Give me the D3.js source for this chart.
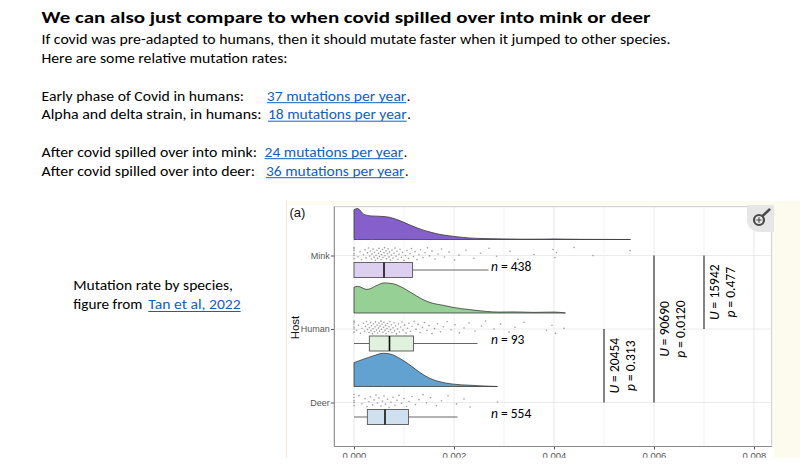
<!DOCTYPE html>
<html><head><meta charset="utf-8">
<script src="https://cdn.jsdelivr.net/npm/d3@7"></script>
<style>body{margin:0;background:#fff}svg{display:block}</style>
</head><body>
<svg id="c" width="800" height="465"></svg>
<script>
// ---------- text content ----------
const title = "We can also just compare to when covid spilled over into mink or deer";
const introLines = ["If covid was pre-adapted to humans, then it should mutate faster when it jumped to other species.",
                    "Here are some relative mutation rates:"];
const rateLabels = ["Early phase of Covid in humans:", "Alpha and delta strain, in humans:",
                    "After covid spilled over into mink:", "After covid spilled over into deer:"];
const rateValues = [37, 18, 24, 36];
const captionLine1 = "Mutation rate by species,";
const captionLine2 = "figure from";
const captionLink = "Tan et al, 2022";

// ---------- chart data ----------
const hosts = ["Mink", "Human", "Deer"];
const nLabels = [438, 93, 554];
const xTicks = [0, 0.002, 0.004, 0.006, 0.008];
const xGrid = [0, 0.001, 0.002, 0.003, 0.004, 0.005, 0.006, 0.007, 0.008];

// density curves [rate, relative density]
const minkDensity = [[0,0.96],[0.00007,1.0],[0.0002,0.81],[0.00035,0.76],[0.0005,0.75],[0.0007,0.72],[0.0009,0.62],[0.0011,0.48],[0.0013,0.35],[0.0015,0.25],[0.0017,0.17],[0.0019,0.12],[0.0021,0.08],[0.0023,0.05],[0.0026,0.03],[0.003,0.018],[0.0034,0.01],[0.0038,0.012],[0.004,0.018],[0.0042,0.012],[0.0046,0.005],[0.005,0.003],[0.00553,0.0]];
const humanDensity = [[0,0.83],[0.00007,0.86],[0.00026,0.76],[0.00046,0.89],[0.0006,0.97],[0.00079,0.94],[0.00098,0.81],[0.00118,0.62],[0.00138,0.43],[0.00158,0.31],[0.00178,0.25],[0.00198,0.18],[0.00231,0.11],[0.00265,0.05],[0.0029,0.03],[0.0032,0.035],[0.0036,0.02],[0.004,0.03],[0.00423,0.0]];
const deerDensity = [[0,0.77],[0.00019,0.88],[0.00039,0.99],[0.00059,1.07],[0.00072,1.05],[0.00092,0.9],[0.00112,0.69],[0.00132,0.45],[0.00152,0.26],[0.00172,0.15],[0.00199,0.075],[0.00232,0.04],[0.0026,0.015],[0.00287,0.0]];

// box stats
const minkStats  = {lo:0, q1:0,        med:0.0006,  q3:0.00117, hi:0.00269};
const humanStats = {lo:0, q1:0.000307, med:0.00071, q3:0.00119, hi:0.00247};
const deerStats  = {lo:0, q1:0.000267, med:0.00062, q3:0.00109, hi:0.00207};

// raw points (units of 1e-4)
const minkPts = [0,0,0,0,0,0,0.8,1.2,1.5,1.9,2.2,2.4,2.7,2.9,3.1,3.3,3.5,3.6,3.8,4.0,4.1,4.3,4.4,4.6,4.7,4.9,5.0,5.1,5.3,5.4,5.5,5.7,5.8,6.0,6.1,6.2,6.4,6.5,6.7,6.8,7.0,7.1,7.3,7.5,7.6,7.8,8.0,8.2,8.4,8.6,8.8,9.0,9.2,9.5,9.7,10.0,10.3,10.6,10.9,11.2,11.5,11.9,12.2,12.6,13.0,13.3,13.8,14.2,14.7,15.1,15.6,16.2,16.8,17.5,18.1,19.0,20.1,21.0,22.4,24.0,25.3,27.0,28.5,31.2,32.8,36.0,39.8,40.2,40.5,44.0,47.8,55.2];
const humanPts = [0,0,0,0,0,0,0.5,0.9,1.3,1.6,1.9,2.1,2.3,2.5,2.7,2.8,3.0,3.1,3.3,3.4,3.5,3.7,3.8,3.9,4.1,4.2,4.3,4.5,4.6,4.7,4.9,5.0,5.1,5.2,5.4,5.5,5.6,5.8,5.9,6.0,6.2,6.3,6.4,6.6,6.7,6.9,7.0,7.2,7.3,7.5,7.6,7.8,8.0,8.1,8.3,8.5,8.7,8.9,9.1,9.3,9.6,9.8,10.1,10.4,10.7,11.0,11.3,11.6,12.0,12.4,12.8,13.2,13.7,14.1,14.6,15.0,15.6,16.1,16.7,17.3,17.9,18.6,19.4,20.2,21.1,22.0,23.0,24.2,25.5,26.3,28.0,29.3,31.0,32.2,34.0,38.5,39.6,40.3,42.0];
const deerPts = [0,0,0,0,0,1.0,1.6,2.2,2.6,3.0,3.3,3.7,4.0,4.4,4.7,5.0,5.4,5.7,6.0,6.3,6.7,7.0,7.4,7.8,8.2,8.6,9.0,9.5,10.0,10.5,11.0,11.6,12.3,13.0,13.8,14.5,15.3,16.5,17.5,18.8,20.5,22.0,23.2,28.7];

// pairwise tests
const testFrom = ["Human", "Mink", "Mink"];
const testTo   = ["Deer",  "Deer", "Human"];
const testPos  = [0.005, 0.006, 0.007];
const testU    = ["20454", "90690", "15942"];
const testP    = ["0.313", "0.0120", "0.477"];

const series = [
  {host:"Mink",  dens:minkDensity,  stats:minkStats,  pts:minkPts,  fill:"#8560cc", box:"#dccff0"},
  {host:"Human", dens:humanDensity, stats:humanStats, pts:humanPts, fill:"#97d095", box:"#e0f1dd"},
  {host:"Deer",  dens:deerDensity,  stats:deerStats,  pts:deerPts,  fill:"#62a2d0", box:"#cfe1f1"}
];

// ---------- drawing ----------
const svg = d3.select("#c");
svg.append("rect").attr("width",800).attr("height",465).attr("fill","#fff");

const bodyFont = "Carlito, Calibri, Lato, sans-serif";
const axisFont = "Liberation Sans, Arial, sans-serif";
const linkColor = "#1160c4";

function fitText(g, str, x, y, len, size, weight, color) {
  return g.append("text").attr("x",x).attr("y",y).text(str)
    .attr("font-family",bodyFont).attr("font-size",size).attr("font-weight",weight||"normal")
    .attr("fill",color||"#000").attr("textLength",len).attr("lengthAdjust","spacingAndGlyphs");
}
function link(g, str, x, y, len, size) {
  fitText(g, str, x, y, len, size, "normal", linkColor);
  g.append("line").attr("x1",x).attr("x2",x+len).attr("y1",y+2.2).attr("y2",y+2.2)
    .attr("stroke",linkColor).attr("stroke-width",1);
}

const txt = svg.append("g");
fitText(txt, title, 41.5, 23, 609, 16.5, "bold");
fitText(txt, introLines[0], 41.5, 43.5, 629, 14);
fitText(txt, introLines[1], 41.5, 63, 246, 14);

const rateLayout = [
  {y:100.5, lw:202.5, lx:266.8, ll:139.5},
  {y:119,   lw:220,   lx:268,   ll:138.7},
  {y:156.5, lw:215.5, lx:264.6, ll:138.6},
  {y:175.5, lw:213.5, lx:266,   ll:138.5}
];
rateLabels.forEach((s,i) => {
  const L = rateLayout[i];
  fitText(txt, s, 41.5, L.y, L.lw, 14);
  link(txt, rateValues[i] + " mutations per year", L.lx, L.y, L.ll, 14);
  fitText(txt, ".", L.lx + L.ll + 0.5, L.y, 3.5, 14);
});

fitText(txt, captionLine1, 73.3, 290, 159.7, 14);
fitText(txt, captionLine2, 73.3, 309.3, 69, 14);
link(txt, captionLink, 148.3, 309.3, 92.4, 14);

// figure frame
svg.append("defs").append("clipPath").attr("id","fig")
  .append("rect").attr("x",286).attr("y",201).attr("width",514).attr("height",256.8);
const fig = svg.append("g").attr("clip-path","url(#fig)");
fig.append("rect").attr("x",286).attr("y",201).attr("width",514).attr("height",264).attr("fill","#fdfbee");
fig.append("rect").attr("x",287).attr("y",205).attr("width",487).attr("height",260).attr("fill","#fff");
fig.append("line").attr("x1",286.5).attr("x2",286.5).attr("y1",201).attr("y2",465).attr("stroke","#f0e6dc");

const panel = {l:334.3, r:771.7, t:206.7, b:446.5};
const x = d3.scaleLinear().domain([0,0.008]).range([354,754]);
const y = d3.scalePoint().domain(hosts).range([255.5,402.5]);
const dens = d3.scaleLinear().domain([0,1]).range([0,31]);

// grid
fig.append("g").selectAll("line").data(xGrid).join("line")
  .attr("x1",d=>x(d)).attr("x2",d=>x(d)).attr("y1",panel.t).attr("y2",panel.b)
  .attr("stroke",(d,i)=> i%2===0 ? "#e4e4e4" : "#eeeeee").attr("stroke-width",0.8);
fig.append("g").selectAll("line").data(hosts).join("line")
  .attr("x1",panel.l).attr("x2",panel.r).attr("y1",d=>y(d)).attr("y2",d=>y(d))
  .attr("stroke","#e6e6e6").attr("stroke-width",0.8);

// panel border
fig.append("rect").attr("x",panel.l).attr("y",panel.t).attr("width",panel.r-panel.l).attr("height",panel.b-panel.t)
  .attr("fill","none").attr("stroke","#c4c4c4").attr("stroke-width",0.9);

// series
series.forEach(s => {
  const yc = y(s.host);
  const base = yc - 16;
  const area = d3.area().curve(d3.curveMonotoneX)
    .x(d=>x(d[0])).y0(base).y1(d=>base - dens(d[1]));
  fig.append("path").datum(s.dens).attr("d",area)
    .attr("fill",s.fill).attr("stroke","#3a3a3a").attr("stroke-width",0.8);

  // points (deterministic low-discrepancy vertical jitter)
  fig.append("g").selectAll("circle").data(s.pts).join("circle")
    .attr("cx",d=>x(d*1e-4))
    .attr("cy",(d,i)=> yc - 8 + ((i*0.6180339887) % 1)*13)
    .attr("r",0.8).attr("fill","#8c8c8c").attr("opacity",0.85);

  // box
  const bc = yc + 14.5, bh = 15;
  fig.append("line").attr("x1",x(s.stats.lo)).attr("x2",x(s.stats.q1)).attr("y1",bc).attr("y2",bc)
    .attr("stroke","#555").attr("stroke-width",0.9);
  fig.append("line").attr("x1",x(s.stats.q3)).attr("x2",x(s.stats.hi)).attr("y1",bc).attr("y2",bc)
    .attr("stroke","#555").attr("stroke-width",0.9);
  fig.append("rect").attr("x",x(s.stats.q1)).attr("y",bc-bh/2).attr("width",x(s.stats.q3)-x(s.stats.q1)).attr("height",bh)
    .attr("fill",s.box).attr("stroke","#555").attr("stroke-width",0.9);
  fig.append("line").attr("x1",x(s.stats.med)).attr("x2",x(s.stats.med)).attr("y1",bc-bh/2).attr("y2",bc+bh/2)
    .attr("stroke","#111").attr("stroke-width",1.6);
});

// n labels
hosts.forEach((h,i) => {
  const t = fig.append("text").attr("x",491).attr("y",y(h)+15)
    .attr("font-family",bodyFont).attr("font-size",13.5).attr("fill","#000");
  t.append("tspan").attr("font-style","italic").text("n");
  t.append("tspan").text(" = " + nLabels[i]);
});

// significance brackets
testPos.forEach((p,i) => {
  const y1 = y(testFrom[i]), y2 = y(testTo[i]);
  fig.append("line").attr("x1",x(p)).attr("x2",x(p)).attr("y1",y1).attr("y2",y2)
    .attr("stroke","#444").attr("stroke-width",1.3);
  const mid = (y1+y2)/2;
  const t1 = fig.append("text").attr("transform",`translate(${x(p)+14.5},${mid}) rotate(-90)`)
    .attr("text-anchor","middle").attr("font-family",bodyFont).attr("font-size",13.5).attr("fill","#000");
  t1.append("tspan").attr("font-style","italic").text("U");
  t1.append("tspan").text(" = " + testU[i]);
  const t2 = fig.append("text").attr("transform",`translate(${x(p)+31},${mid}) rotate(-90)`)
    .attr("text-anchor","middle").attr("font-family",bodyFont).attr("font-size",13.5).attr("fill","#000");
  t2.append("tspan").attr("font-style","italic").text("p");
  t2.append("tspan").text(" = " + testP[i]);
});

// axes
const xAxis = fig.append("g").attr("transform",`translate(0,${panel.b})`)
  .call(d3.axisBottom(x).tickValues(xTicks).tickFormat(d3.format(".3f")).tickSize(3).tickSizeOuter(0).tickPadding(2.5));
xAxis.select(".domain").remove();
xAxis.selectAll("line").attr("stroke","#555");
xAxis.selectAll("text").attr("font-family",axisFont).attr("font-size",9.5).attr("fill","#555");
fig.append("line").attr("x1",panel.l).attr("x2",panel.r).attr("y1",panel.b).attr("y2",panel.b).attr("stroke","#8a8a8a").attr("stroke-width",1);

const yAxis = fig.append("g").attr("transform",`translate(${panel.l},0)`)
  .call(d3.axisLeft(y).tickSize(3.5).tickSizeOuter(0).tickPadding(1));
yAxis.select(".domain").remove();
yAxis.selectAll("line").attr("stroke","#555");
yAxis.selectAll("text").attr("font-family",axisFont).attr("font-size",9).attr("fill","#555");
fig.append("line").attr("x1",panel.l).attr("x2",panel.l).attr("y1",panel.t).attr("y2",panel.b).attr("stroke","#8a8a8a").attr("stroke-width",1);

fig.append("text").attr("transform","translate(298.5,327.5) rotate(-90)").attr("text-anchor","middle")
  .attr("font-family",axisFont).attr("font-size",11.5).attr("fill","#111").text("Host");
fig.append("text").attr("x",289.5).attr("y",216.5)
  .attr("font-family",axisFont).attr("font-size",13).attr("fill","#111").text("(a)");

// zoom widget
const zw = fig.append("g");
zw.append("path").attr("d","M747,205 H774 V232 H759 A12,12 0 0 1 747,220 Z").attr("fill","#e6e6e6");
zw.append("circle").attr("cx",759).attr("cy",220).attr("r",5).attr("fill","none").attr("stroke","#4a4a4a").attr("stroke-width",2.2);
zw.append("line").attr("x1",762.5).attr("y1",216).attr("x2",769.5).attr("y2",209.5).attr("stroke","#4a4a4a").attr("stroke-width",2.4).attr("stroke-linecap","round");
zw.append("line").attr("x1",756.3).attr("x2",761.7).attr("y1",220).attr("y2",220).attr("stroke","#4a4a4a").attr("stroke-width",1.1);
zw.append("line").attr("x1",759).attr("x2",759).attr("y1",217.3).attr("y2",222.7).attr("stroke","#4a4a4a").attr("stroke-width",1.1);
</script>
</body></html>
